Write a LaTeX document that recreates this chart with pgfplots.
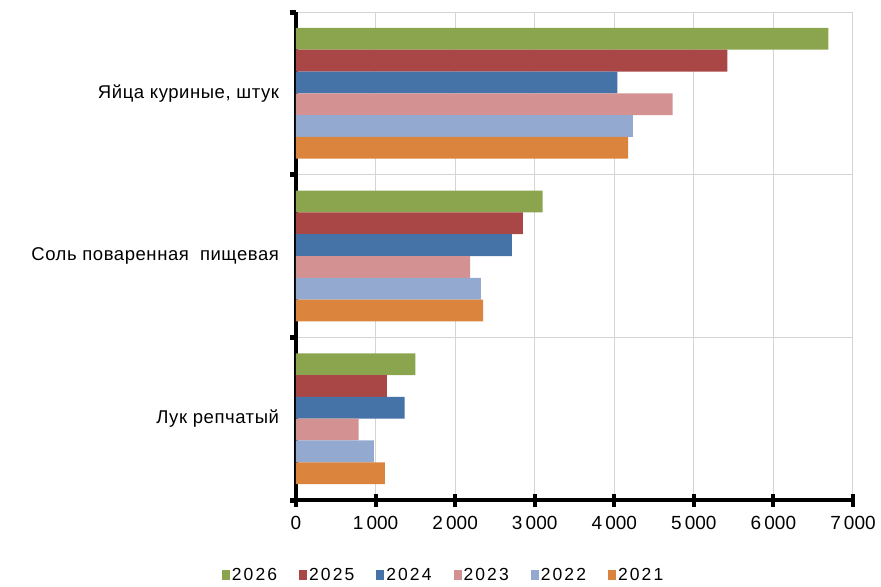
\documentclass[border=0pt]{standalone}
\usepackage{fontspec}
\setmainfont{Liberation Sans}
\usepackage{pgfplots}
\pgfplotsset{compat=1.18}
\definecolor{c26}{HTML}{8BA54F}
\definecolor{c25}{HTML}{A94746}
\definecolor{c24}{HTML}{4572A7}
\definecolor{c23}{HTML}{D39291}
\definecolor{c22}{HTML}{94A9D0}
\definecolor{c21}{HTML}{DB843D}
\begin{document}
\begin{tikzpicture}
\begin{axis}[
  scale only axis, width=557pt, height=488pt,
  xbar, bar width=0.134,
  xmin=0, xmax=7000, ymin=-0.5, ymax=2.5,
  xtick={0,1000,...,7000},
  xticklabels={0,1\,000,2\,000,3\,000,4\,000,5\,000,6\,000,7\,000},
  ytick={0,1,2},
  yticklabels={Лук репчатый, Соль поваренная\hspace{0.6em}пищевая, {Яйца куриные, штук}},
  minor ytick={-0.5,0.5,1.5,2.5},
  xmajorgrids, yminorgrids,
  major grid style={draw=black!17, line width=1pt},
  minor grid style={draw=black!17, line width=1pt},
  axis x line*=bottom, axis y line*=left,
  axis line style={black, line width=4.5pt, -},
  tick align=center,
  major tick length=13pt,
  minor tick length=6pt,
  every major x tick/.style={black, line width=4pt},
  every major y tick/.style={draw=none},
  every minor y tick/.style={black, line width=5pt, xshift=-3pt},
  tick label style={font=\fontsize{19}{21}\selectfont},
  xticklabel style={yshift=-6pt},
  yticklabel style={xshift=-7pt, font=\fontsize{18.5}{21}\selectfont\addfontfeature{LetterSpace=3}},
  clip=false,
  legend columns=6,
  legend style={draw=none, fill=none, at={(0.265,-0.154)}, anchor=center,
    font=\fontsize{17.5}{20}\selectfont\addfontfeature{LetterSpace=12},
    /tikz/every even column/.append style={column sep=20pt}},
  legend image code/.code={\path[#1] (0pt,-5pt) rectangle (8pt,5pt);},
]
\addplot[fill=c26, draw=none, bar shift=0.335] coordinates {(6690,2) (3100,1) (1500,0)};
\addplot[fill=c25, draw=none, bar shift=0.201] coordinates {(5420,2) (2850,1) (1143,0)};
\addplot[fill=c24, draw=none, bar shift=0.067] coordinates {(4040,2) (2713,1) (1366,0)};
\addplot[fill=c23, draw=none, bar shift=-0.067] coordinates {(4733,2) (2188,1) (786,0)};
\addplot[fill=c22, draw=none, bar shift=-0.201] coordinates {(4233,2) (2322,1) (979,0)};
\addplot[fill=c21, draw=none, bar shift=-0.335] coordinates {(4175,2) (2352,1) (1118,0)};
\legend{2026,2025,2024,2023,2022,2021}
\path (rel axis cs:-0.5314,1.0246) rectangle (rel axis cs:1.0503,-0.1742);
\end{axis}
\end{tikzpicture}
\end{document}
